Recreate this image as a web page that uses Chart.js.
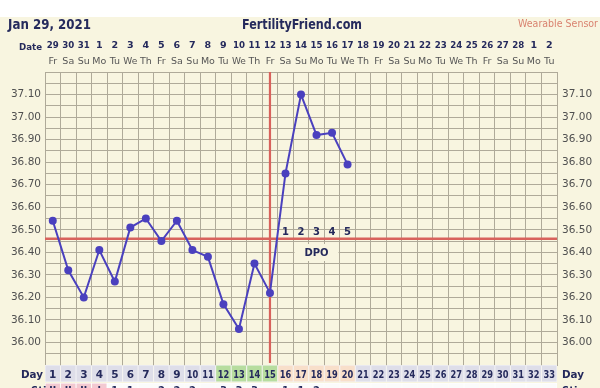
<!DOCTYPE html>
<html><head><meta charset="utf-8">
<script src="https://cdn.jsdelivr.net/npm/chart.js@4.4.1/dist/chart.umd.min.js"></script>
<style>html,body{margin:0;padding:0;background:#fff}canvas{display:block}</style>
</head><body>
<canvas id="c" width="600" height="388"></canvas>
<script>
const dayNumbers = [1,2,3,4,5,6,7,8,9,10,11,12,13,14,15,16,17,18,19,20,21,22,23,24,25,26,27,28,29,30,31,32,33];
const dateLabels = ['29','30','31','1','2','3','4','5','6','7','8','9','10','11','12','13','14','15','16','17','18','19','20','21','22','23','24','25','26','27','28','1','2'];
const weekdays = ['Fr','Sa','Su','Mo','Tu','We','Th','Fr','Sa','Su','Mo','Tu','We','Th','Fr','Sa','Su','Mo','Tu','We','Th','Fr','Sa','Su','Mo','Tu','We','Th','Fr','Sa','Su','Mo','Tu'];
const temps = [36.54,36.32,36.20,36.41,36.27,36.51,36.55,36.45,36.54,36.41,36.38,36.17,36.06,36.35,36.22,36.75,37.10,36.92,36.93,36.79];
const coverline = 36.46;
const ovulationDay = 15;
const dpoLabels = ['1','2','3','4','5'];
const fertileDays = [12,13,14,15];
const lutealDays = [16,17,18,19,20];
const periodDays = [1,2,3,4];
const stickyMarks = ['ll','ll','ll','l','1','1','','2','2','2','','3','3','3','','1','1','2','','','','','','','','','','','','','','',''];
const yTickLabels = ['36.00','36.10','36.20','36.30','36.40','36.50','36.60','36.70','36.80','36.90','37.00','37.10'];

const CREAM = '#f8f5e0', GRID = '#afaa99', NAVY = '#252a5c', RED = '#d8625c', BLUE = '#4a40be';
const FONT = '"DejaVu Sans", Verdana, sans-serif';

function yLabel(v){
  const s = (Math.round(v*100)/100).toFixed(2);
  return yTickLabels.includes(s) ? s : '';
}

const deco = {
  id:'deco',
  beforeDraw(chart){
    const c = chart.ctx;
    c.save();
    c.fillStyle = '#ffffff'; c.fillRect(0,0,600,17);
    c.fillStyle = CREAM; c.fillRect(0,17,600,371);
    c.restore();
  },
  beforeDatasetsDraw(chart){
    const c = chart.ctx, x = chart.scales.x, y = chart.scales.y, a = chart.chartArea;
    c.save();
    const dx = x.getPixelForValue(17);
    c.fillStyle = CREAM;
    c.fillRect(dx-22, 244, 44, 17);
    c.strokeStyle = RED; c.lineWidth = 2.5;
    const cy = y.getPixelForValue(coverline);
    c.beginPath(); c.moveTo(a.left, cy); c.lineTo(a.right, cy); c.stroke();
    const ox = x.getPixelForValue(ovulationDay-1);
    c.lineWidth = 2.2;
    c.beginPath(); c.moveTo(ox, a.top); c.lineTo(ox, a.bottom-2); c.stroke();
    c.restore();
  },
  afterDraw(chart){
    const c = chart.ctx, x = chart.scales.x, y = chart.scales.y, a = chart.chartArea;
    const w = (a.right - a.left)/dayNumbers.length;
    c.save();
    c.textBaseline = 'alphabetic';
    c.fillStyle = NAVY; c.font = 'bold 14px ' + FONT; c.textAlign = 'left';
    c.fillText('Jan 29, 2021', 8, 29, 83);
    c.fillText('FertilityFriend.com', 242, 29, 120);
    c.fillStyle = '#d9826f'; c.font = '10.5px ' + FONT;
    c.fillText('Wearable Sensor', 518, 27, 80);
    c.fillStyle = NAVY; c.font = 'bold 9.5px ' + FONT;
    c.fillText('Date', 19, 50, 23);
    c.textAlign = 'center';
    c.font = 'bold 9.5px ' + FONT;
    dateLabels.forEach((t,i)=>c.fillText(t, x.getPixelForValue(i), 48, w-3.5));
    c.fillStyle = '#555555'; c.font = '9.5px ' + FONT;
    weekdays.forEach((t,i)=>c.fillText(t, x.getPixelForValue(i), 64, w-1.5));
    c.fillStyle = NAVY; c.font = 'bold 10px ' + FONT;
    dpoLabels.forEach((t,i)=>c.fillText(t, x.getPixelForValue(ovulationDay+i), 235));
    c.fillText('DPO', x.getPixelForValue(17), 256);
    const top = a.bottom, h = 17;
    dayNumbers.forEach((d,i)=>{
      const l = a.left + i*w;
      let col = '#dedee9';
      if (fertileDays.includes(d)) col = '#b7dd9f';
      else if (lutealDays.includes(d)) col = '#f8dfca';
      c.fillStyle = '#f4f4f6'; c.fillRect(l, top, w, h);
      c.fillStyle = col; c.fillRect(l+0.5, top+0.5, w-1, h-1);
      c.fillStyle = NAVY; c.font = 'bold 10.5px ' + FONT;
      c.fillText(String(d), l + w/2, top+13, w-4);
      c.fillStyle = '#ffffff'; c.fillRect(l, top+h+1, w, 20);
      c.fillStyle = periodDays.includes(d) ? '#f3c9d1' : '#fbfbfb';
      c.fillRect(l+0.5, top+h+1.5, w-1, 20);
      c.fillStyle = NAVY; c.font = 'bold 10px ' + FONT;
      if (stickyMarks[i]) c.fillText(stickyMarks[i], l + w/2, top+h+12, w-4);
    });
    c.textAlign = 'left'; c.font = 'bold 11px ' + FONT; c.fillStyle = NAVY;
    c.fillText('Day', 21, top+13, 22);
    c.fillText('Day', 562, top+13, 22);
    c.font = 'bold 10px ' + FONT;
    c.fillText('Sti', 31, top+h+12);
    c.fillText('Sti', 562, top+h+12);
    c.restore();
  }
};

new Chart(document.getElementById('c'), {
  type:'line',
  data:{
    labels: dayNumbers,
    datasets:[{
      data: temps,
      borderColor: BLUE, borderWidth: 2,
      pointRadius: 4, pointBackgroundColor: BLUE, pointBorderColor: BLUE, pointBorderWidth: 0,
      tension: 0
    }]
  },
  options:{
    responsive:false, animation:false, devicePixelRatio:1,
    layout:{padding:{top:72, left:0, right:0, bottom:0}},
    plugins:{legend:{display:false}, tooltip:{enabled:false}},
    scales:{
      x:{
        type:'category', offset:true, position:'bottom',
        grid:{offset:true, color:GRID, lineWidth:1, drawTicks:false},
        border:{color:GRID},
        ticks:{display:false},
        afterFit(s){ s.height = 23; }
      },
      y:{
        position:'left', min:35.9, max:37.2,
        ticks:{stepSize:0.05, autoSkip:false, callback:yLabel, padding:4, color:'#505050', font:{family:FONT, size:10.5}},
        grid:{color:GRID, lineWidth:1, drawTicks:false},
        border:{color:GRID},
        afterFit(s){ s.width = 45; }
      },
      y2:{
        position:'right', min:35.9, max:37.2,
        ticks:{stepSize:0.05, autoSkip:false, callback:yLabel, padding:5, color:'#505050', font:{family:FONT, size:10.5}},
        grid:{display:false, drawTicks:false},
        border:{display:false},
        afterFit(s){ s.width = 43; }
      }
    }
  },
  plugins:[deco]
});
</script>
</body></html>
